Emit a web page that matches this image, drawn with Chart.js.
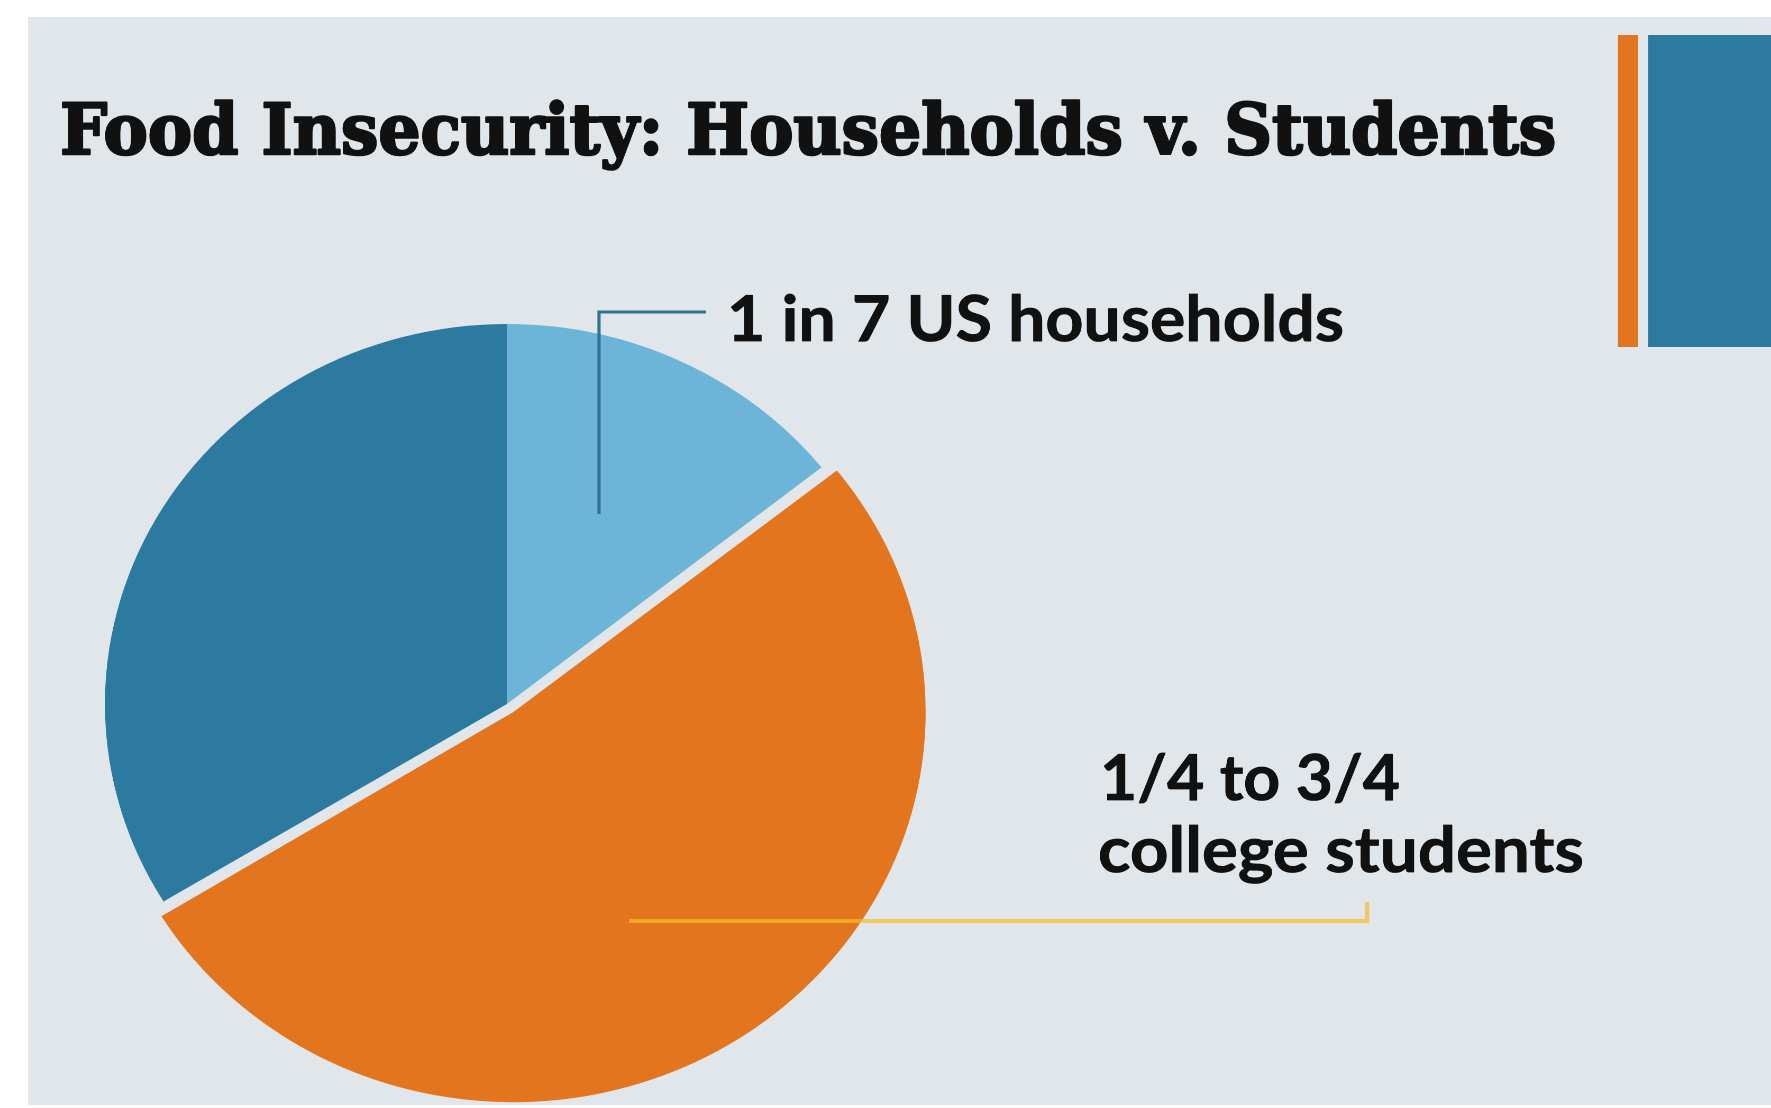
<!DOCTYPE html>
<html>
<head>
<meta charset="utf-8">
<script src="https://cdn.jsdelivr.net/npm/chart.js@4.4.1/dist/chart.umd.min.js"></script>
<style>
    html, body { margin: 0; padding: 0; background: #ffffff; overflow: hidden; }
    #pie { display: block; width: 1771px !important; height: 1108px !important; }
</style>
</head>
<body>
<canvas id="pie" width="1674" height="1108" style="width:1771px;height:1108px"></canvas>
<script>
const title = 'Food Insecurity: Households v. Students';
const categories = ['US households', 'College students', 'Rest'];
const shares = [14.3, 52, 33.7];
const householdsLabel = ['1 in 7 US households'];
const studentsLabel = ['1/4 to 3/4', 'college students'];

const sliceColors = ['#6db5d8', '#e2751d', '#2c7aa0'];
const sliceOffsets = [0, 40, 0];

// the slide in the picture is stretched sideways, so draw narrow and let CSS widen it
const SX = 1771 / 1674;
const px = x => x / SX;

const colors = {
    panel: '#e1e6ea',
    text: '#111111',
    orange: '#e2751d',
    blue: '#2c7aa0',
    leaderBlue: '#2f7194',
    leaderGold: 'rgba(245, 190, 40, 0.72)',
};

function fitText(ctx, text, x, y, width, font, stroke) {
    ctx.font = font;
    const w = ctx.measureText(text).width;
    ctx.save();
    ctx.translate(px(x), y);
    ctx.scale(px(width) / w, 1);
    ctx.fillText(text, 0, 0);
    if (stroke) {
        ctx.lineWidth = stroke;
        ctx.lineJoin = 'round';
        ctx.strokeText(text, 0, 0);
    }
    ctx.restore();
}

const slide = {
    id: 'slide',
    beforeDraw(chart) {
        const ctx = chart.ctx;
        ctx.save();
        ctx.fillStyle = '#ffffff';
        ctx.fillRect(0, 0, chart.width, chart.height);
        ctx.fillStyle = colors.panel;
        ctx.fillRect(px(28), 17, chart.width - px(28), 1088);
        // accent bars, top right
        ctx.fillStyle = colors.orange;
        ctx.fillRect(px(1618), 35, px(20), 312);
        ctx.fillStyle = colors.blue;
        ctx.fillRect(px(1648), 35, chart.width - px(1648), 312);
        ctx.restore();
    },
    afterDatasetsDraw(chart) {
        const ctx = chart.ctx;
        ctx.save();
        ctx.lineCap = 'butt';
        ctx.lineJoin = 'miter';

        ctx.strokeStyle = colors.leaderBlue;
        ctx.lineWidth = 3;
        ctx.beginPath();
        ctx.moveTo(px(706), 312);
        ctx.lineTo(px(599), 312);
        ctx.lineTo(px(599), 514);
        ctx.stroke();

        ctx.strokeStyle = colors.leaderGold;
        ctx.lineWidth = 4;
        ctx.beginPath();
        ctx.moveTo(px(629), 921);
        ctx.lineTo(px(1367), 921);
        ctx.lineTo(px(1367), 902);
        ctx.stroke();
        ctx.restore();
    },
    afterDraw(chart) {
        const ctx = chart.ctx;
        ctx.save();
        ctx.fillStyle = colors.text;
        ctx.strokeStyle = colors.text;
        ctx.textBaseline = 'alphabetic';
        ctx.textAlign = 'left';

        fitText(ctx, title, 60, 154, 1496, 'bold 70px "DejaVu Serif"', 2.6);

        const labelFont = 'bold 63px Lato';
        fitText(ctx, householdsLabel[0], 727, 341, 617, labelFont, 0.8);
        fitText(ctx, studentsLabel[0], 1100, 800, 300, labelFont, 0.8);
        fitText(ctx, studentsLabel[1], 1098, 872, 486, labelFont, 0.8);
        ctx.restore();
    }
};

new Chart(document.getElementById('pie'), {
    type: 'pie',
    data: {
        labels: categories,
        datasets: [{
            data: shares,
            backgroundColor: sliceColors,
            borderWidth: 0,
            offset: sliceOffsets,
            hoverOffset: 0,
        }]
    },
    options: {
        responsive: false,
        devicePixelRatio: 2,
        animation: false,
        events: [],
        rotation: 0,
        radius: 380,
        layout: {
            padding: { left: 79.2, right: 794.8, top: 304, bottom: 4 }
        },
        plugins: {
            legend: { display: false },
            tooltip: { enabled: false },
            title: { display: false },
        }
    },
    plugins: [slide]
});
</script>
</body>
</html>
